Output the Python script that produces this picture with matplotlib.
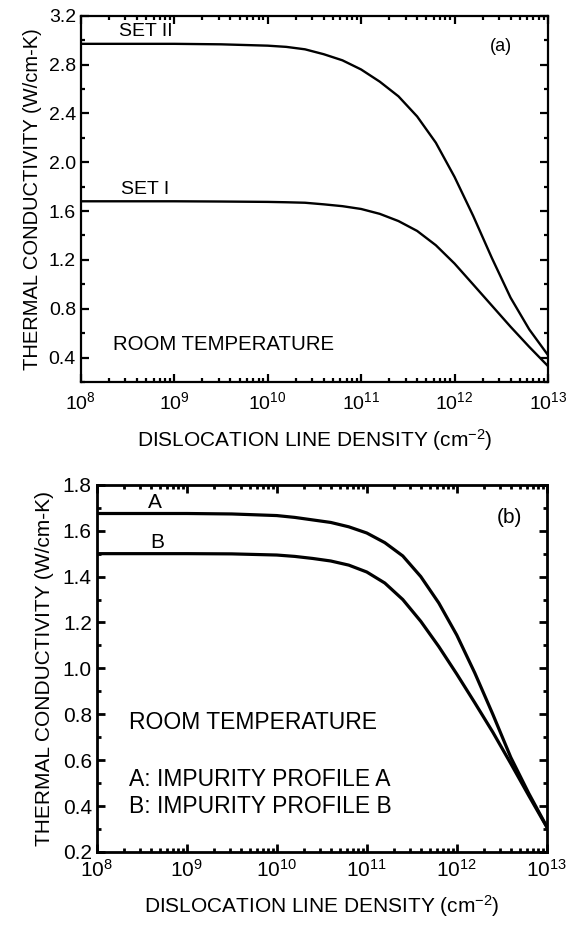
import numpy as np
import matplotlib.pyplot as plt
from matplotlib.ticker import LogLocator, MultipleLocator, NullFormatter

plt.rcParams['font.family'] = ['Liberation Sans', 'DejaVu Sans']
plt.rcParams['mathtext.default'] = 'regular'

# log10 of dislocation line density, shared sampling for the read-off curves
logn = [8.0, 9.0, 9.5, 10.0, 10.2, 10.4, 10.6, 10.8, 11.0, 11.2, 11.4, 11.6, 11.8, 12.0, 12.2, 12.4, 12.6, 12.8, 13.0]

# panel (a): thermal conductivity (W/cm-K)
k_set2 = [2.970, 2.970, 2.966, 2.955, 2.945, 2.925, 2.885, 2.835, 2.760, 2.660, 2.540, 2.375, 2.160, 1.880, 1.560, 1.215, 0.890, 0.630, 0.420]
k_set1 = [1.680, 1.680, 1.678, 1.675, 1.672, 1.668, 1.655, 1.640, 1.617, 1.577, 1.518, 1.437, 1.320, 1.170, 0.998, 0.825, 0.652, 0.487, 0.330]

# panel (b): impurity profiles A and B
k_a = [1.675, 1.675, 1.673, 1.666, 1.658, 1.647, 1.636, 1.617, 1.590, 1.548, 1.490, 1.400, 1.285, 1.145, 0.980, 0.800, 0.612, 0.455, 0.310]
k_b = [1.500, 1.500, 1.499, 1.494, 1.488, 1.479, 1.468, 1.450, 1.420, 1.372, 1.300, 1.205, 1.095, 0.975, 0.850, 0.722, 0.585, 0.445, 0.308]

xlabel = 'DISLOCATION LINE DENSITY (cm$^{-2}$)'
ylabel = 'THERMAL CONDUCTIVITY (W/cm-K)'

n = 10 ** np.array(logn)


def style_axis(ax, fs, lw, xpad):
    ax.set_xscale('log')
    ax.set_xlim(1e8, 1e13)
    ax.xaxis.set_major_locator(LogLocator(base=10, numticks=10))
    ax.xaxis.set_minor_locator(LogLocator(base=10, subs=np.arange(2, 10), numticks=20))
    ax.xaxis.set_minor_formatter(NullFormatter())
    ax.tick_params(which='both', direction='in', top=True, right=True, width=lw)
    ax.tick_params(which='major', length=6, labelsize=fs)
    ax.tick_params(which='minor', length=3)
    ax.tick_params(axis='x', pad=xpad)
    for s in ax.spines.values():
        s.set_linewidth(lw)


fig = plt.figure(figsize=(5.69, 9.27), dpi=100)

# ---- panel (a)
ax1 = fig.add_axes([0.142, 0.588, 0.821, 0.395])
ax1.plot(n, k_set2, color='black', lw=1.7)
ax1.plot(n, k_set1, color='black', lw=1.7)
ax1.set_ylim(0.2, 3.2)
ax1.yaxis.set_major_locator(MultipleLocator(0.4))
ax1.yaxis.set_minor_locator(MultipleLocator(0.2))
style_axis(ax1, 14, 1.6, 7)
ax1.set_yticks([0.4, 0.8, 1.2, 1.6, 2.0, 2.4, 2.8, 3.2])
ax1.set_xlabel(xlabel, fontsize=15, labelpad=10)
ax1.set_ylabel(ylabel, fontsize=14.5, labelpad=5)
ax1.text(10 ** 8.41, 3.0, 'SET II', fontsize=14, va='bottom')
ax1.text(10 ** 8.43, 1.71, 'SET I', fontsize=14, va='bottom')
ax1.text(10 ** 12.5, 2.95, '(a)', fontsize=13, ha='center', va='center')
ax1.text(10 ** 8.34, 0.51, 'ROOM TEMPERATURE', fontsize=14.7, va='center')

# ---- panel (b)
ax2 = fig.add_axes([0.170, 0.081, 0.791, 0.396])
ax2.plot(n, k_a, color='black', lw=2.3)
ax2.plot(n, k_b, color='black', lw=2.3)
ax2.set_ylim(0.2, 1.8)
ax2.yaxis.set_major_locator(MultipleLocator(0.2))
ax2.yaxis.set_minor_locator(MultipleLocator(0.1))
style_axis(ax2, 15, 2.0, 5)
ax2.set_xlabel(xlabel, fontsize=15, labelpad=9)
ax2.set_ylabel(ylabel, fontsize=15, labelpad=6)
ax2.text(10 ** 8.65, 1.683, 'A', fontsize=15, ha='center', va='bottom')
ax2.text(10 ** 8.67, 1.507, 'B', fontsize=15, ha='center', va='bottom')
ax2.text(10 ** 12.59, 1.656, '(b)', fontsize=15, ha='center', va='center')
ax2.text(10 ** 8.36, 0.762, 'ROOM TEMPERATURE', fontsize=16.5, va='center')
ax2.text(10 ** 8.36, 0.514, 'A: IMPURITY PROFILE A', fontsize=16.5, va='center')
ax2.text(10 ** 8.36, 0.396, 'B: IMPURITY PROFILE B', fontsize=16.5, va='center')

fig.savefig('out.png', dpi=100)
